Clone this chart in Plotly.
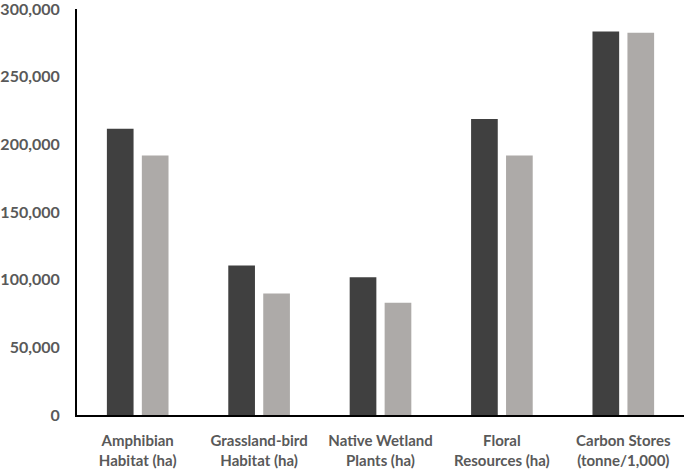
import plotly.graph_objects as go

categories = ["Amphibian<br>Habitat (ha)", "Grassland-bird<br>Habitat (ha)", "Native Wetland<br>Plants (ha)",
              "Floral<br>Resources (ha)", "Carbon Stores<br>(tonne/1,000)"]
series_a = [211500, 110500, 101800, 218800, 283300]
series_b = [191700, 89700, 83000, 191700, 282400]
tick_vals = [0, 50000, 100000, 150000, 200000, 250000, 300000]
tick_text = ["0", "50,000", "100,000", "150,000", "200,000", "250,000", "300,000"]

font_family = "Lato, 'Open Sans', sans-serif"

fig = go.Figure()
fig.add_trace(go.Bar(x=categories, y=series_a, marker=dict(color="#404040", line=dict(width=0))))
fig.add_trace(go.Bar(x=categories, y=series_b, marker=dict(color="#adaaa8", line=dict(width=0))))

fig.update_layout(
    width=685, height=470,
    margin=dict(l=77, r=1, t=9, b=55, autoexpand=False),
    paper_bgcolor="white", plot_bgcolor="white",
    showlegend=False,
    barmode="group", bargap=0.424, bargroupgap=0.237,
    font=dict(family=font_family, color="#595959"),
)
fig.update_xaxes(
    range=[-0.5, 4.5], showline=True, linecolor="black", linewidth=2,
    showgrid=False, ticks="", ticklabelstandoff=11, automargin=False,
    ticklabeloverflow="allow",
    tickfont=dict(family=font_family, size=15, color="#595959", weight="bold"),
)
fig.update_yaxes(
    range=[0, 300000], showline=True, linecolor="black", linewidth=2,
    showgrid=False, zeroline=False, tickvals=tick_vals, ticktext=tick_text,
    ticks="", ticklabelstandoff=12, automargin=False, ticklabeloverflow="allow",
    tickfont=dict(family=font_family, size=16, color="#595959", weight="bold"),
)
fig.write_html("out.html", config={"displayModeBar": False},
               post_script="document.body.style.margin='0';document.body.style.padding='0';")
